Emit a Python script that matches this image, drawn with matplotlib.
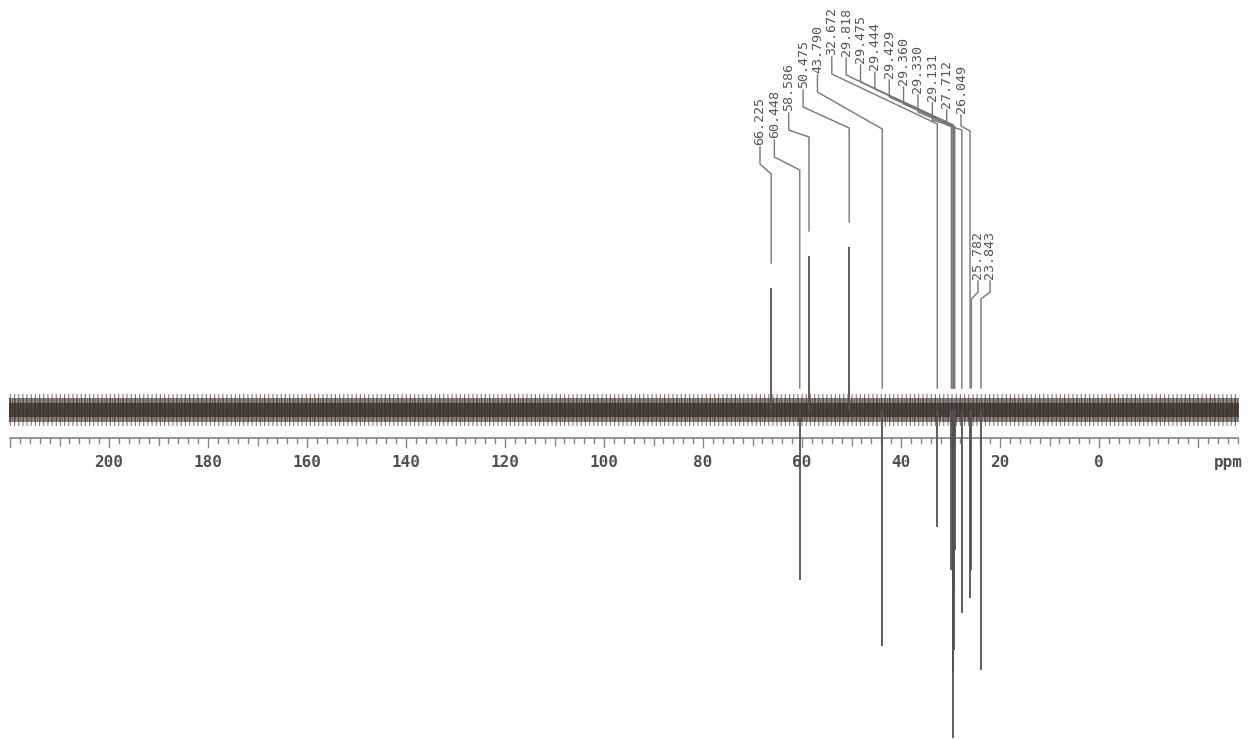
import matplotlib
matplotlib.use("Agg")
import matplotlib.pyplot as plt
import numpy as np

# ---------------- data ----------------
peak_ppm = [66.225, 60.448, 58.586, 50.475, 43.790, 32.672, 29.818, 29.475,
            29.444, 29.429, 29.360, 29.330, 29.131, 27.712, 26.049, 25.782, 23.843]
# intensity in arbitrary units (baseline = 0, DEPT-135: CH/CH3 up, CH2 down)
peak_int = [122, -170, 154, 163, -236, -117, -160, -200,
            -262, -328, -240, -180, -140, -203, -188, -160, -260]
peak_labels = [f"{p:.3f}" for p in peak_ppm]

tick_values = [200, 180, 160, 140, 120, 100, 80, 60, 40, 20, 0]
tick_labels = [str(v) for v in tick_values]
axis_unit = "ppm"
ppm_left, ppm_right = 220, -28

# ---------------- layout helpers (pixel geometry of the page) ----------------
W, H = 1248, 739
PX0 = 1099.0      # pixel x of 0 ppm
PXS = 4.95        # pixels per ppm
BASE_PY = 410.0   # pixel y of baseline


def X(px):
    return (PX0 - px) / PXS


def Y(py):
    return BASE_PY - py


plt.rcParams["hatch.linewidth"] = 0.8

fig = plt.figure(figsize=(W / 100, H / 100), dpi=100)
ax = fig.add_axes([0, 0, 1, 1])
ax.set_xlim(X(0), X(W))
ax.set_ylim(Y(H), Y(0))
ax.axis("off")
fig.patch.set_facecolor("white")

noise_col = "#3a2c27"
peak_col = "#555050"
lead_col = "#7a7575"
text_col = "#555555"

# baseline noise band (drawn as an envelope with a vertical texture)
xs = np.array([ppm_left + 0.3, ppm_right - 0.3])
ax.fill_between(xs, -16, 16, facecolor="none", edgecolor="#8a7b73", hatch="||||",
                lw=0, zorder=1)
ax.fill_between(xs, -12, 12, facecolor=noise_col, edgecolor="#2e221e", hatch="||||||",
                alpha=0.5, lw=0, zorder=1)
ax.fill_between(xs, -7, 7, color=noise_col, alpha=0.75, lw=0, zorder=1)

# peaks
ax.vlines(peak_ppm, 0, peak_int, colors=peak_col, lw=1.3, zorder=3)

# ---------------- peak labels with leaders ----------------
n_top = 15
top_bottom_py = [147, 140, 113, 90, 75, 57, 58, 65, 72, 80, 87, 95, 103, 110, 115]
kink2_py = [174, 170, 137, 128, 129, 124, 125, 125, 125, 126, 126, 127, 127, 130, 131]
low_label_px = [978, 990]
low_bottom_py = [281, 281]
low_kink2_py = [299, 299]

label_px = [760 + 14.36 * i for i in range(n_top)] + low_label_px
bottoms = top_bottom_py + low_bottom_py
kinks2 = kink2_py + low_kink2_py

for i, (lab, p, h) in enumerate(zip(peak_labels, peak_ppm, peak_int)):
    lx = X(label_px[i])
    yb = Y(bottoms[i])
    ax.text(lx, yb + 2, lab, rotation=90, ha="center", va="bottom",
            family="DejaVu Sans Mono", fontsize=9.6, color=text_col, zorder=5)
    drop = 17 if i < n_top else 11
    k1_py = min(bottoms[i] + drop, kinks2[i] - 5)
    k1 = Y(k1_py)
    k2 = Y(kinks2[i])
    end = h + 25 if h > 0 else 22
    ax.plot([lx, lx, p, p], [yb, k1, k2, end], color=lead_col, lw=1.0,
            zorder=4, solid_joinstyle="miter")

# ---------------- ppm axis ----------------
axis_y = Y(438)
ax.plot([ppm_left, ppm_right], [axis_y, axis_y], color="#777777", lw=1.1, zorder=2)
for v in range(ppm_left, ppm_right - 1, -2):
    if v % 20 == 0:
        L = 9
    elif v % 10 == 0:
        L = 7
    else:
        L = 5
    ax.plot([v, v], [axis_y, axis_y - L], color="#888888", lw=1.0, zorder=2)

for v, t in zip(tick_values, tick_labels):
    ax.text(v, Y(463), t, ha="center", va="center", family="DejaVu Sans Mono",
            fontweight="bold", fontsize=11.5, color="#505050")
ax.text(X(1228), Y(463), axis_unit, ha="center", va="center",
        family="DejaVu Sans Mono", fontweight="bold", fontsize=11.5, color="#505050")

fig.savefig("out.png", dpi=100, facecolor="white")
